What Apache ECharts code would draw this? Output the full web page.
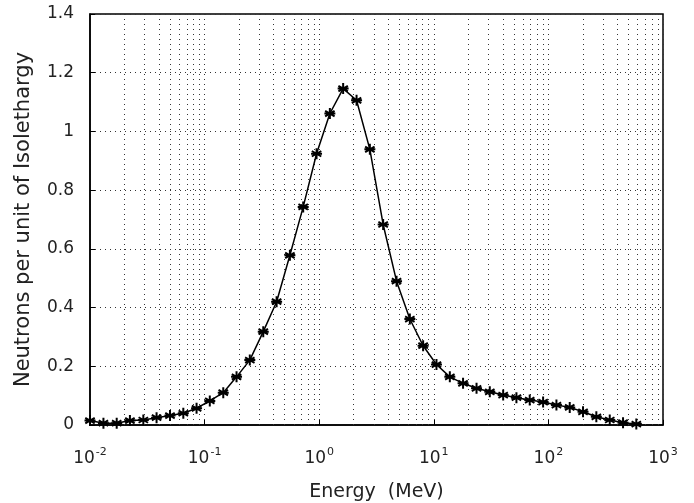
<!DOCTYPE html>
<html>
<head>
<meta charset="utf-8">
<script src="https://cdn.jsdelivr.net/npm/echarts@6/dist/echarts.min.js"></script>
<style>
html,body{margin:0;padding:0;background:#fff;}
#chart{width:694px;height:503px;}
</style>
</head>
<body>
<div id="chart"></div>
<script>
// Energy (MeV) of each sampled point
const energies = [0.0100, 0.0131, 0.0171, 0.0223, 0.0292, 0.0381, 0.0499, 0.0652, 0.0851, 0.111,
  0.1455, 0.190, 0.248, 0.325, 0.425, 0.555, 0.725, 0.948, 1.239, 1.618,
  2.118, 2.767, 3.614, 4.73, 6.18, 8.07, 10.55, 13.8, 18.0, 23.6,
  30.8, 40.3, 52.6, 68.7, 89.9, 117.5, 153.5, 200.5, 262, 343,
  448, 585];
// Neutrons per unit of isolethargy
const neutrons = [0.015, 0.006, 0.006, 0.015, 0.017, 0.025, 0.032, 0.040, 0.057, 0.082,
  0.110, 0.164, 0.221, 0.318, 0.420, 0.578, 0.743, 0.924, 1.061, 1.146,
  1.106, 0.939, 0.683, 0.490, 0.361, 0.270, 0.206, 0.164, 0.142, 0.125,
  0.113, 0.102, 0.093, 0.085, 0.078, 0.068, 0.060, 0.045, 0.028, 0.017,
  0.008, 0.003];
// x tick exponents (10^n)
const xTickExponents = ['-2', '-1', '0', '1', '2', '3'];
// y tick labels
const yTickLabels = ['0', '0.2', '0.4', '0.6', '0.8', '1', '1.2', '1.4'];
// minor vertical grid positions (2..9 x each decade)
const minorGridValues = [0.02,0.03,0.04,0.05,0.06,0.07,0.08,0.09,
  0.2,0.3,0.4,0.5,0.6,0.7,0.8,0.9,
  2,3,4,5,6,7,8,9,
  20,30,40,50,60,70,80,90,
  200,300,400,500,600,700,800,900];

const FONT = 'DejaVu Sans';
const gridStyle = {color: '#333', width: 1, type: [1, 4]};

const chart = echarts.init(document.getElementById('chart'), null, {renderer: 'canvas'});
const asterisk = 'path://M5,0L5,10M0.7,2.5L9.3,7.5M0.7,7.5L9.3,2.5M0,5L10,5';

chart.setOption({
  animation: false,
  backgroundColor: '#fff',
  grid: {left: 90, right: 31, top: 14, bottom: 78, outerBoundsMode: 'none', containLabel: false,
    show: true, borderColor: '#000', borderWidth: 1.5, backgroundColor: 'transparent'},
  xAxis: {
    type: 'log', logBase: 10, min: 0.01, max: 1000,
    name: 'Energy  (MeV)', nameLocation: 'middle', nameGap: 58,
    nameTextStyle: {fontFamily: FONT, fontSize: 19, color: '#222'},
    axisLine: {show: true, lineStyle: {color: '#000', width: 1.5}},
    axisTick: {show: true, inside: true, length: 5, lineStyle: {color: '#000'}},
    splitLine: {show: true, lineStyle: gridStyle},
    axisLabel: {
      margin: 22,
      formatter: function (v, i) { return '{b|10}{s|' + xTickExponents[i] + '}'; },
      rich: {
        b: {fontFamily: FONT, fontSize: 17, color: '#222'},
        s: {fontFamily: FONT, fontSize: 11, color: '#222', padding: [0, 0, 13, 1]}
      }
    }
  },
  yAxis: {
    type: 'value', min: 0, max: 1.4, interval: 0.2,
    name: 'Neutrons per unit of Isolethargy', nameLocation: 'middle', nameGap: 56,
    nameTextStyle: {fontFamily: FONT, fontSize: 21, color: '#222'},
    axisLine: {show: true, lineStyle: {color: '#000', width: 1.5}},
    axisTick: {show: true, inside: true, length: 5, lineStyle: {color: '#000'}},
    splitLine: {show: true, lineStyle: gridStyle},
    axisLabel: {
      margin: 16, fontFamily: FONT, fontSize: 17, color: '#222',
      formatter: function (v, i) { return yTickLabels[i]; }
    }
  },
  series: [{
    type: 'line',
    data: energies.map((e, i) => [e, neutrons[i]]),
    symbol: asterisk, symbolSize: 11,
    itemStyle: {color: 'rgba(0,0,0,0)', borderColor: '#000', borderWidth: 2},
    lineStyle: {color: '#000', width: 1.5},
    z: 5,
    markLine: {
      silent: true, symbol: ['none', 'none'], animation: false,
      label: {show: false},
      lineStyle: gridStyle,
      data: minorGridValues.map(v => ({xAxis: v}))
    }
  }]
});
</script>
</body>
</html>
